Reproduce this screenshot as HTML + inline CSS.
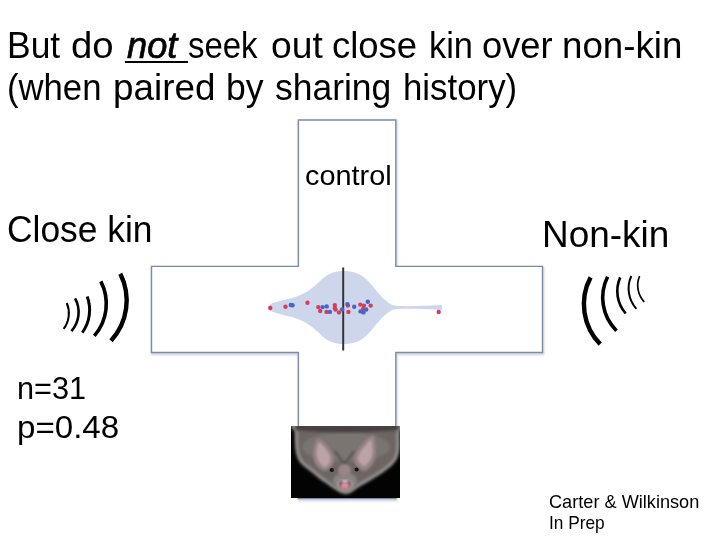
<!DOCTYPE html>
<html><head><meta charset="utf-8">
<style>
html,body{margin:0;padding:0;background:#fff;width:720px;height:540px;overflow:hidden;}
body{position:relative;font-family:"Liberation Sans",sans-serif;color:#000;}
.t{position:absolute;white-space:nowrap;line-height:1;transform-origin:0 0;}
svg{position:absolute;left:0;top:0;}
</style></head><body>
<svg width="720" height="540" viewBox="0 0 720 540">
  <!-- cross outline -->
  <filter id="sh" x="-10%" y="-10%" width="120%" height="120%"><feGaussianBlur stdDeviation="0.8"/></filter>
  <path d="M298.4 120 H395.8 V266.4 H542.5 V352.5 H395.8 V498.5 H298.4 V352.5 H151.5 V266.4 H298.4 Z" fill="none" stroke="#c3ccd9" stroke-width="2" transform="translate(0.6 1.6)" filter="url(#sh)"/>
  <path d="M298.4 120 H395.8 V266.4 H542.5 V352.5 H395.8 V498.5 H298.4 V352.5 H151.5 V266.4 H298.4 Z" fill="#fff" stroke="#7b8ca8" stroke-width="1.4"/>
  <!-- violin -->
  <path id="violin" d="M268 307.5 C268 303 280 301 292 298 C305 294 312 289 320 281 C328 273 335 271 343 271 C353 271 361 273 369 282 C377 291 383 300 392 305 C400 307 420 306 442 305 L442 310 C420 309 400 308 392 310 C383 315 377 324 369 333 C361 342 353 344 343 344 C335 344 328 342 320 334 C312 326 305 321 292 317 C280 314 268 312 268 307.5 Z" fill="#cdd6eb"/>
  <line x1="343.2" y1="267.5" x2="343.2" y2="350.5" stroke="#333" stroke-width="2"/>
  <g fill="#d23f5c">
    <circle cx="270.3" cy="308" r="2.2"/><circle cx="285.5" cy="306.7" r="2.2"/><circle cx="307.5" cy="302.7" r="2.2"/>
    <circle cx="318.3" cy="307.1" r="2.2"/><circle cx="320.2" cy="311" r="2.2"/><circle cx="326.5" cy="311.9" r="2.2"/>
    <circle cx="334.8" cy="305.1" r="2.2"/><circle cx="334.8" cy="308" r="2.2"/><circle cx="335.5" cy="309.5" r="2.2"/>
    <circle cx="339" cy="312.4" r="2.2"/><circle cx="347.9" cy="305.6" r="2.2"/><circle cx="348.4" cy="311.9" r="2.2"/>
    <circle cx="360.3" cy="304.6" r="2.2"/><circle cx="363.9" cy="305.6" r="2.2"/><circle cx="363" cy="309" r="2.2"/>
    <circle cx="370.7" cy="305.6" r="2.2"/><circle cx="438.7" cy="312" r="2.2"/>
  </g>
  <g fill="#4565c8">
    <circle cx="290.8" cy="305" r="2.2"/><circle cx="292.5" cy="305.3" r="2.2"/>
    <circle cx="322.6" cy="307.1" r="2.2"/><circle cx="326.7" cy="306.4" r="2.2"/><circle cx="329.9" cy="311.9" r="2.2"/>
    <circle cx="342.1" cy="309.5" r="2.2"/><circle cx="347.4" cy="304.1" r="2.2"/><circle cx="354.2" cy="306.8" r="2.2"/>
    <circle cx="367.8" cy="301.7" r="2.2"/><circle cx="366.2" cy="309.5" r="2.2"/><circle cx="360.5" cy="311.4" r="2.2"/>
    <circle cx="363.5" cy="312.4" r="2.2"/>
  </g>
  <!-- left waves -->
  <g fill="none" stroke="#000">
    <path d="M66.8 303 A25.87 25.87 0 0 1 63.6 328.9" stroke-width="2"/>
    <path d="M75.1 298.3 A28.86 28.86 0 0 1 71.4 331.2" stroke-width="2.6"/>
    <path d="M87.2 296.5 A38.60 38.60 0 0 1 82.3 332.6" stroke-width="3"/>
    <path d="M100.8 281.3 A48.87 48.87 0 0 1 94.3 335.9" stroke-width="3.6"/>
    <path d="M120.3 273.8 A59.45 59.45 0 0 1 111 340.7" stroke-width="4.4"/>
  </g>
  <!-- right waves -->
  <g fill="none" stroke="#000">
    <path d="M590.6 277.4 A56.97 56.97 0 0 0 600.2 344.1" stroke-width="4.4"/>
    <path d="M607.6 276.7 A46.73 46.73 0 0 0 616.5 330.7" stroke-width="3.6"/>
    <path d="M620.2 277.4 A33.88 33.88 0 0 0 625.7 313.5" stroke-width="2.6"/>
    <path d="M631.3 276 A30.47 30.47 0 0 0 636.4 308.9" stroke-width="2"/>
    <path d="M639.6 276 A24.01 24.01 0 0 0 644.3 301.9" stroke-width="1.7"/>
  </g>
  <!-- bat photo -->
  <defs>
    <clipPath id="pc"><rect x="291" y="426" width="109" height="72"/></clipPath>
    <filter id="bl" x="-20%" y="-20%" width="140%" height="140%"><feGaussianBlur stdDeviation="1.8"/></filter>
    <filter id="bl2" x="-30%" y="-30%" width="160%" height="160%"><feGaussianBlur stdDeviation="1"/></filter>
    <radialGradient id="fur" cx="50%" cy="35%" r="60%">
      <stop offset="0" stop-color="#6a6360"/><stop offset="0.6" stop-color="#5d5652"/><stop offset="1" stop-color="#8a8584"/>
    </radialGradient>
  </defs>
  <rect x="291" y="426" width="109" height="72" fill="#030303"/>
  <g clip-path="url(#pc)">
    <path d="M294.0 424.0 C285.3 425.7 294.4 427.7 294.7 432.0 C295.0 436.3 294.8 445.0 295.6 450.0 C296.5 455.0 297.1 458.3 299.8 462.0 C302.5 465.7 307.5 468.7 311.8 472.2 C316.1 475.7 320.3 479.5 325.8 483.1 C331.3 486.7 339.3 493.5 345.0 494.0 C350.7 494.5 354.4 489.3 360.0 486.2 C365.6 483.1 373.0 479.1 378.6 475.3 C384.2 471.5 390.2 467.4 393.6 463.5 C397.0 459.6 398.0 457.2 399.0 452.0 C400.0 446.8 399.3 436.7 399.5 432.0 C399.7 427.3 408.8 425.7 400.0 424.0 C391.2 422.3 364.7 422.0 347.0 422.0 C329.3 422.0 302.7 422.3 294.0 424.0 Z" fill="#9d9896" filter="url(#bl)"/>
    <path d="M296.9 424.0 C288.6 425.7 297.4 428.2 297.7 432.5 C297.9 436.7 297.7 444.7 298.5 449.4 C299.4 454.1 299.9 457.3 302.5 460.7 C305.1 464.2 309.9 466.9 314.0 470.2 C318.1 473.5 321.9 476.9 327.1 480.4 C332.3 483.9 339.8 490.5 345.1 491.0 C350.5 491.5 353.9 486.3 359.2 483.3 C364.4 480.3 371.3 476.6 376.6 473.1 C381.9 469.5 387.7 465.8 390.9 462.1 C394.2 458.5 395.1 456.3 396.1 451.3 C397.0 446.4 396.4 437.0 396.5 432.5 C396.7 427.9 405.4 425.7 397.1 424.0 C388.9 422.3 363.7 422.0 347.0 422.0 C330.3 422.0 305.1 422.3 296.9 424.0 Z" fill="#6c6563" filter="url(#bl)"/>
    <ellipse cx="346" cy="447" rx="44" ry="15" fill="#7a7471" filter="url(#bl)"/>
    <path d="M296 425 L398 425 L398 430 C370 433 320 433 296 430 Z" fill="#45403e" filter="url(#bl)"/>
    <path d="M318.5 438.5 C320.3 438.5 323.6 441.2 326.0 444.0 C328.4 446.8 331.8 451.7 333.0 455.0 C334.2 458.3 334.3 461.3 333.0 464.0 C331.7 466.7 327.8 470.8 325.0 471.0 C322.2 471.2 318.0 467.8 316.0 465.0 C314.0 462.2 313.2 457.5 313.0 454.0 C312.8 450.5 314.1 446.6 315.0 444.0 C315.9 441.4 316.7 438.5 318.5 438.5 Z" fill="#978387" filter="url(#bl2)"/>
    <path d="M319.5 443.0 C320.8 443.3 323.2 445.8 325.0 448.0 C326.8 450.2 329.2 453.5 330.0 456.0 C330.8 458.5 330.4 461.2 329.5 463.0 C328.6 464.8 326.3 467.3 324.5 467.0 C322.7 466.7 319.8 463.3 318.5 461.0 C317.2 458.7 316.7 455.5 316.5 453.0 C316.3 450.5 317.0 447.7 317.5 446.0 C318.0 444.3 318.2 442.7 319.5 443.0 Z" fill="#bba3a7" filter="url(#bl2)"/>
    <path d="M373.0 435.0 C375.2 435.2 375.1 441.5 375.5 445.0 C375.9 448.5 376.1 452.7 375.5 456.0 C374.9 459.3 373.9 462.5 372.0 465.0 C370.1 467.5 366.8 471.2 364.0 471.0 C361.2 470.8 356.5 466.7 355.0 464.0 C353.5 461.3 353.8 458.3 355.0 455.0 C356.2 451.7 359.0 447.3 362.0 444.0 C365.0 440.7 370.8 434.8 373.0 435.0 Z" fill="#978387" filter="url(#bl2)"/>
    <path d="M371.0 440.0 C372.4 440.2 372.3 445.3 372.5 448.0 C372.7 450.7 372.6 453.7 372.0 456.0 C371.4 458.3 370.3 460.3 369.0 462.0 C367.7 463.7 365.8 466.2 364.0 466.0 C362.2 465.8 359.4 462.8 358.5 461.0 C357.6 459.2 357.6 457.3 358.5 455.0 C359.4 452.7 361.9 449.5 364.0 447.0 C366.1 444.5 369.6 439.8 371.0 440.0 Z" fill="#bba3a7" filter="url(#bl2)"/>
    <path d="M335 451 C339 457 342 461 344.5 464 C347 461 350 457 354 451" fill="none" stroke="#575250" stroke-width="2.2" filter="url(#bl2)"/>
    <ellipse cx="345" cy="481" rx="12" ry="9" fill="#8a8380" filter="url(#bl)"/>
    <circle cx="331.8" cy="470" r="2.1" fill="#151313"/>
    <circle cx="356.6" cy="469.5" r="2.1" fill="#151313"/>
    <ellipse cx="344.5" cy="470" rx="6.5" ry="6" fill="#9a8688" filter="url(#bl2)"/>
    <ellipse cx="345" cy="484.5" rx="8" ry="6.5" fill="#a8999a" filter="url(#bl2)"/>
    <ellipse cx="345" cy="484" rx="5.5" ry="4.5" fill="#5a4649" filter="url(#bl2)"/>
    <ellipse cx="345" cy="485.5" rx="4.2" ry="3.4" fill="#d8909e" filter="url(#bl2)"/>
    <ellipse cx="345" cy="481" rx="3.6" ry="1" fill="#f2eaea" filter="url(#bl2)"/>
  </g>
</svg>
<!--TEXT-->
<div class="t" style="left:7.25px;top:28px;font-size:36px;transform:scaleX(0.9843);">But</div>
<div class="t" style="left:70.67px;top:28px;font-size:36px;transform:scaleX(1.0649);">do</div>
<div class="t" style="left:126.7px;top:28px;font-size:36px;font-style:italic;-webkit-text-stroke:0.7px #000;transform:scaleX(1.0058);">not</div>
<div class="t" style="left:188.09px;top:28px;font-size:36px;transform:scaleX(0.9147);">seek</div>
<div class="t" style="left:270.93px;top:28px;font-size:36px;transform:scaleX(1.0333);">out</div>
<div class="t" style="left:332.48px;top:28px;font-size:36px;transform:scaleX(1.0123);">close</div>
<div class="t" style="left:428.59px;top:28px;font-size:36px;transform:scaleX(0.9548);">kin</div>
<div class="t" style="left:482.49px;top:28px;font-size:36px;transform:scaleX(1.0074);">over</div>
<div class="t" style="left:562.36px;top:28px;font-size:36px;transform:scaleX(1.0193);">non-kin</div>
<div style="position:absolute;left:125px;top:60.7px;width:63px;height:2px;background:#000;"></div>
<div class="t" style="left:6.87px;top:70.4px;font-size:36px;transform:scaleX(0.9628);">(when</div>
<div class="t" style="left:112.75px;top:70.4px;font-size:36px;transform:scaleX(1.0229);">paired</div>
<div class="t" style="left:226.22px;top:70.4px;font-size:36px;transform:scaleX(0.9875);">by</div>
<div class="t" style="left:274.52px;top:70.4px;font-size:36px;transform:scaleX(0.9843);">sharing</div>
<div class="t" style="left:402.57px;top:70.4px;font-size:36px;transform:scaleX(0.9671);">history)</div>
<div class="t" style="left:305.17px;top:162px;font-size:28px;transform:scaleX(1.0309);">control</div>
<div class="t" style="left:6.83px;top:211.6px;font-size:36px;transform:scaleX(0.9826);">Close kin</div>
<div class="t" style="left:542.32px;top:216.8px;font-size:36px;transform:scaleX(1.0261);">Non-kin</div>
<div class="t" style="left:16.65px;top:373.4px;font-size:31.5px;transform:scaleX(0.9735);">n=31</div>
<div class="t" style="left:16.5px;top:411.8px;font-size:31.5px;transform:scaleX(1.0511);">p=0.48</div>
<div class="t" style="left:549.24px;top:491.5px;font-size:19px;transform:scaleX(0.9555);">Carter &amp; Wilkinson</div>
<div class="t" style="left:549.08px;top:513px;font-size:19px;transform:scaleX(0.9085);">In Prep</div>
</body></html>
